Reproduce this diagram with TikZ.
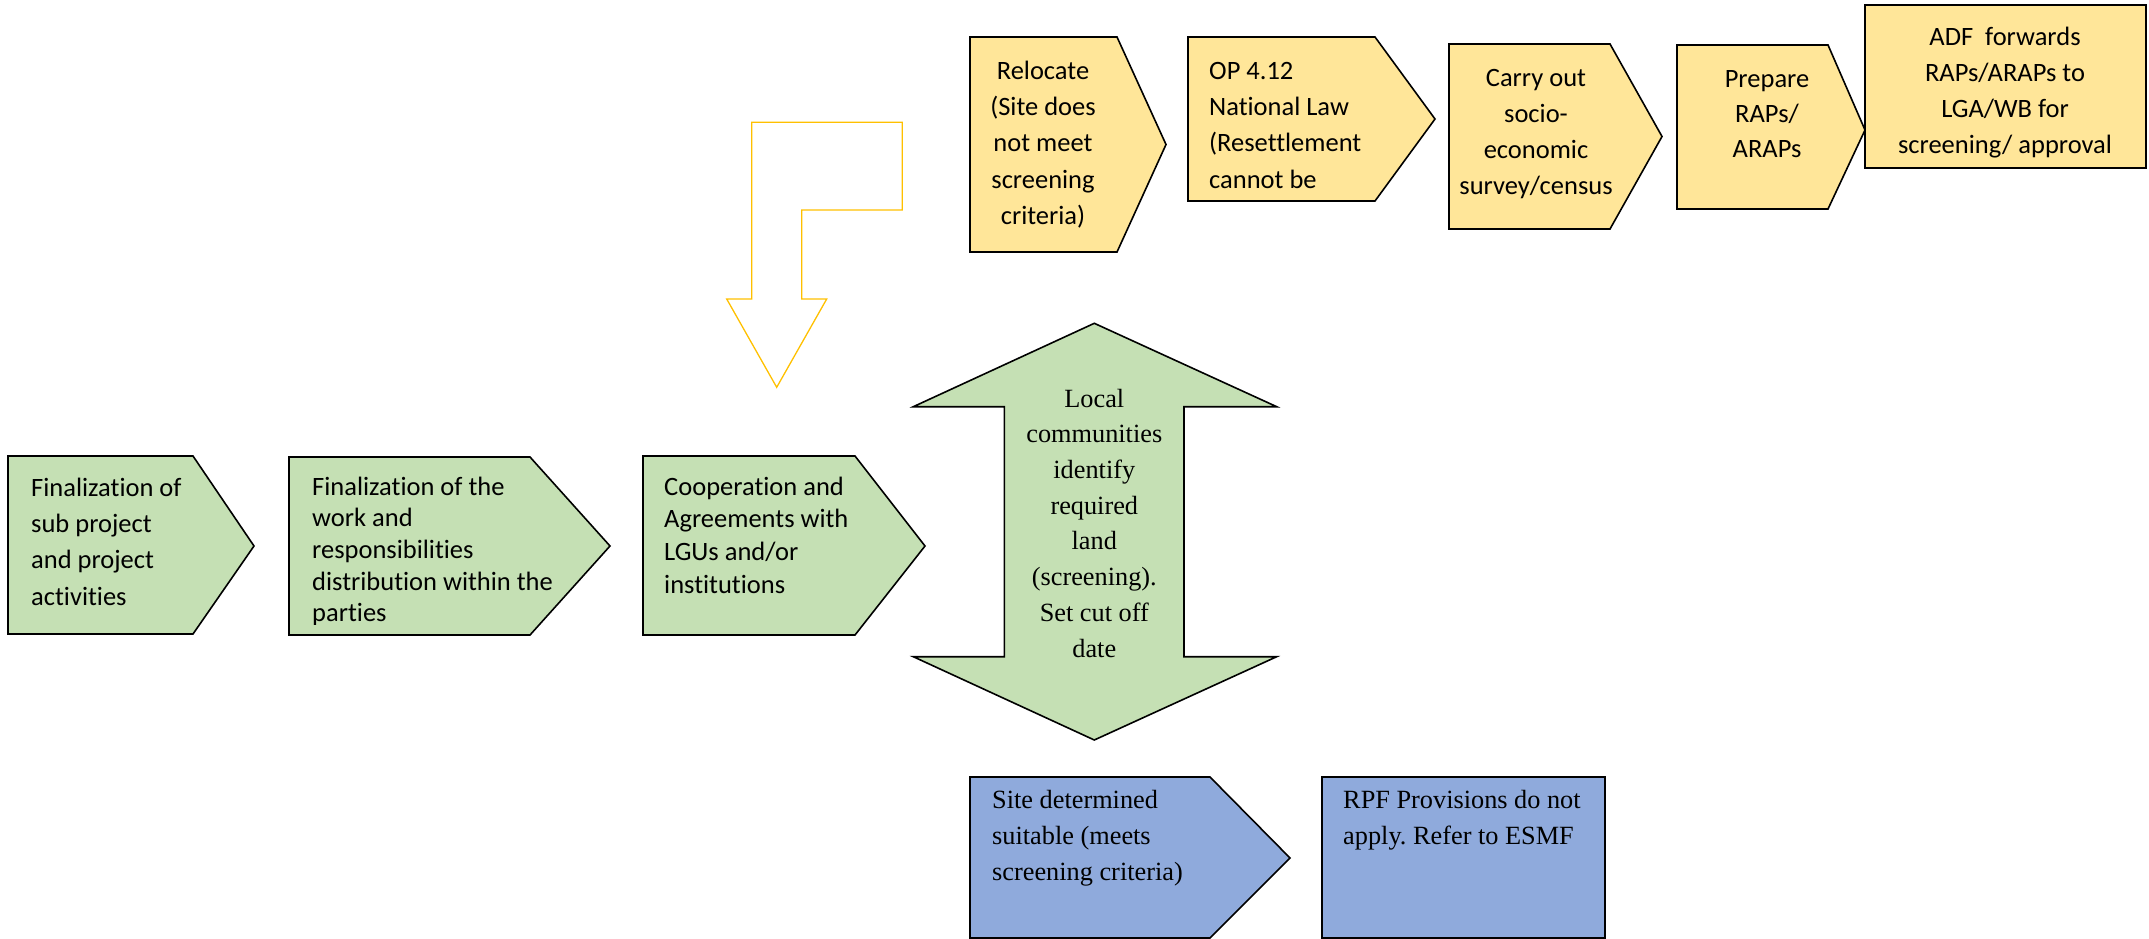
\documentclass[tikz,border=0pt]{standalone}
\usepackage{fontspec}
\newfontfamily\calfont[Ligatures=NoCommon]{Carlito}
\newfontfamily\tmsfont{Liberation Serif}
\definecolor{yfill}{HTML}{FFE699}
\definecolor{gfill}{HTML}{C5E0B4}
\definecolor{bfill}{HTML}{8FAADC}
\definecolor{goldline}{HTML}{FFC000}
\frenchspacing
\tikzset{
  shp/.style={draw=black, line width=1.6pt},
  ybox/.style={shp, fill=yfill},
  gbox/.style={shp, fill=gfill},
  bbox/.style={shp, fill=bfill},
  caltxt/.style={font=\calfont\fontsize{26.5}{#1}\selectfont, inner sep=0pt, text=black},
  tmstxt/.style={font=\tmsfont\fontsize{26.3}{#1}\selectfont, inner sep=0pt, text=black},
}
\begin{document}
\begin{tikzpicture}[x=1pt,y=-1pt]
\useasboundingbox (0,0) rectangle (2149,939);

% ---- yellow row ----
\draw[ybox] (970,37) -- (1117,37) -- (1166,144.5) -- (1117,252) -- (970,252) -- cycle;
\draw[ybox] (1188,37) -- (1375,37) -- (1435,119) -- (1375,201) -- (1188,201) -- cycle;
\draw[ybox] (1449,44) -- (1610,44) -- (1662,136.5) -- (1610,229) -- (1449,229) -- cycle;
\draw[ybox] (1677,45) -- (1828,45) -- (1865,130) -- (1828,209) -- (1677,209) -- cycle;
\draw[ybox] (1865,5) rectangle (2146,168);

\node[caltxt={36.3}, align=center, anchor=north] (relocate) at (1043,53.6)
  {\strut Relocate\\(Site does\\not meet\\screening\\criteria)};
\node[caltxt={36.3}, align=left, anchor=north west] (op) at (1209,53.6)
  {\strut OP 4.12\\National Law\\(Resettlement\\cannot be};
\node[caltxt={36}, align=center, anchor=north] (carry) at (1536,60.8)
  {\strut Carry out\\socio-\\economic\\survey/census};
\node[caltxt={35}, align=center, anchor=north] (prepare) at (1767,62.5)
  {\strut Prepare\\RAPs/\\ARAPs};
\node[caltxt={36}, align=center, anchor=north] (adf) at (2005,19.8)
  {\strut ADF\ \ forwards\\RAPs/ARAPs to\\LGA/WB for\\screening/ approval};

% ---- bent arrow (outline only) ----
\draw[goldline, line width=1.3pt] (751.7,122.3) -- (902.3,122.3) -- (902.3,210) -- (801.7,210)
  -- (801.7,299) -- (826.7,299) -- (776.7,387.3) -- (726.7,299) -- (751.7,299) -- cycle;

% ---- green row ----
\draw[gbox] (8,456) -- (193,456) -- (254,546) -- (193,634) -- (8,634) -- cycle;
\draw[gbox] (289,457) -- (530,457) -- (610,546) -- (530,635) -- (289,635) -- cycle;
\draw[gbox] (643,456) -- (855,456) -- (925,546) -- (855,635) -- (643,635) -- cycle;

\node[caltxt={36.3}, align=left, anchor=north west] (g1) at (31,470.6)
  {\strut Finalization of\\sub project\\and project\\activities};
\begin{scope}
\clip (289,457) rectangle (610,624);
\node[caltxt={31.7}, align=left, anchor=north west] (g2) at (312,472.8)
  {\strut Finalization of the\\work and\\responsibilities\\distribution within the\\parties};
\end{scope}
\node[caltxt={32.7}, align=left, anchor=north west] (g3) at (664,472.1)
  {\strut Cooperation and\\Agreements with\\LGUs and/or\\institutions};

% ---- up-down arrow ----
\draw[gbox] (1094.3,323.3) -- (1276.7,406.7) -- (1184,406.7) -- (1184,656.7) -- (1276.7,656.7)
  -- (1094.3,740) -- (913.3,656.7) -- (1004.3,656.7) -- (1004.3,406.7) -- (913.3,406.7) -- cycle;
\node[tmstxt={35.7}, align=center, anchor=north] (local) at (1094.3,382)
  {\strut Local\\communities\\identify\\required\\land\\(screening).\\Set cut off\\date};

% ---- blue row ----
\draw[bbox] (970,777) -- (1210,777) -- (1290,858) -- (1210,938) -- (970,938) -- cycle;
\draw[bbox] (1322,777) rectangle (1605,938);
\node[tmstxt={36}, align=left, anchor=north west] (site) at (992,782.8)
  {\strut Site determined\\suitable (meets\\screening criteria)};
\node[tmstxt={36}, align=left, anchor=north west] (rpf) at (1343,782.8)
  {\strut RPF Provisions do not\\apply. Refer to ESMF};
\end{tikzpicture}
\end{document}
